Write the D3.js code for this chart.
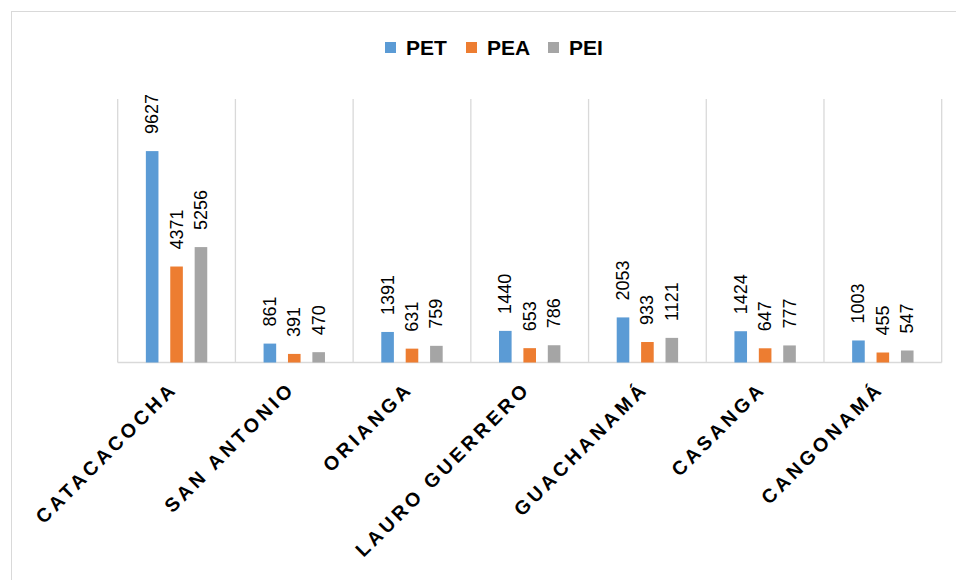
<!DOCTYPE html>
<html><head><meta charset="utf-8">
<script src="https://cdn.jsdelivr.net/npm/d3@7"></script>
<style>body{margin:0;background:#fff}svg{display:block}</style>
</head><body>
<script>
const categories = ["CATACACOCHA","SAN ANTONIO","ORIANGA","LAURO GUERRERO","GUACHANAMÁ","CASANGA","CANGONAMÁ"];
const seriesNames = ["PET","PEA","PEI"];
const PET = [9627,861,1391,1440,2053,1424,1003];
const PEA = [4371,391,631,653,933,647,455];
const PEI = [5256,470,759,786,1121,777,547];
const colors = ["#5B9BD5","#ED7D31","#A5A5A5"];
const yMax = 12000;

(function(){
const W=956,H=580;
const svg=d3.select("body").append("svg").attr("width",W).attr("height",H);
svg.append("rect").attr("x",11.5).attr("y",11.5).attr("width",W+20).attr("height",H+20)
  .attr("fill","#fff").attr("stroke","#D9D9D9").attr("stroke-width",1);

const pLeft=117.7,pRight=941.7,pTop=99,base=362.5;
const x=d3.scaleBand().domain(categories).range([pLeft,pRight]).paddingInner(0).paddingOuter(0);
const y=d3.scaleLinear().domain([0,yMax]).range([base,pTop]);
const data=[PET,PEA,PEI];
const barW=12.6, stride=24.4;

const bounds=categories.map(c=>x(c)).concat([pRight]);
svg.selectAll("line.sep").data(bounds).enter().append("line")
  .attr("x1",d=>d).attr("x2",d=>d).attr("y1",pTop).attr("y2",base)
  .attr("stroke","#D9D9D9").attr("stroke-width",1.3);
svg.append("line").attr("x1",pLeft).attr("x2",pRight).attr("y1",base).attr("y2",base)
  .attr("stroke","#D9D9D9").attr("stroke-width",1.5);

data.forEach((arr,si)=>{
  const off=(si-1)*stride;
  const g=svg.append("g");
  g.selectAll("rect").data(arr).enter().append("rect")
    .attr("x",(d,i)=>x(categories[i])+x.bandwidth()/2+off-barW/2)
    .attr("width",barW)
    .attr("y",d=>y(d)).attr("height",d=>base-y(d))
    .attr("fill",colors[si]);
  g.selectAll("text").data(arr).enter().append("text")
    .attr("transform",(d,i)=>`translate(${x(categories[i])+x.bandwidth()/2+off},${y(d)-17}) rotate(-90)`)
    .attr("text-anchor","start").attr("dominant-baseline","central")
    .attr("font-family","Liberation Sans, Arial, sans-serif").attr("font-size",18)
    .attr("fill","#000").text(d=>d);
});

svg.selectAll("text.cat").data(categories).enter().append("text")
  .attr("transform",d=>`translate(${x(d)+x.bandwidth()/2-3},${385}) rotate(-45)`)
  .attr("text-anchor","end").attr("dominant-baseline","central")
  .attr("font-family","Liberation Sans, Arial, sans-serif").attr("font-size",19.5)
  .attr("font-weight","bold").attr("letter-spacing","3.6px")
  .attr("fill","#000").text(d=>d);

const legX=[385,466,548];
seriesNames.forEach((n,i)=>{
  svg.append("rect").attr("x",legX[i]).attr("y",42).attr("width",11).attr("height",11).attr("fill",colors[i]);
  svg.append("text").attr("x",legX[i]+21).attr("y",47.5).attr("dominant-baseline","central")
    .attr("font-family","Liberation Sans, Arial, sans-serif").attr("font-size",21).attr("font-weight","bold")
    .attr("fill","#000").text(n);
});
})();
</script>
</body></html>
